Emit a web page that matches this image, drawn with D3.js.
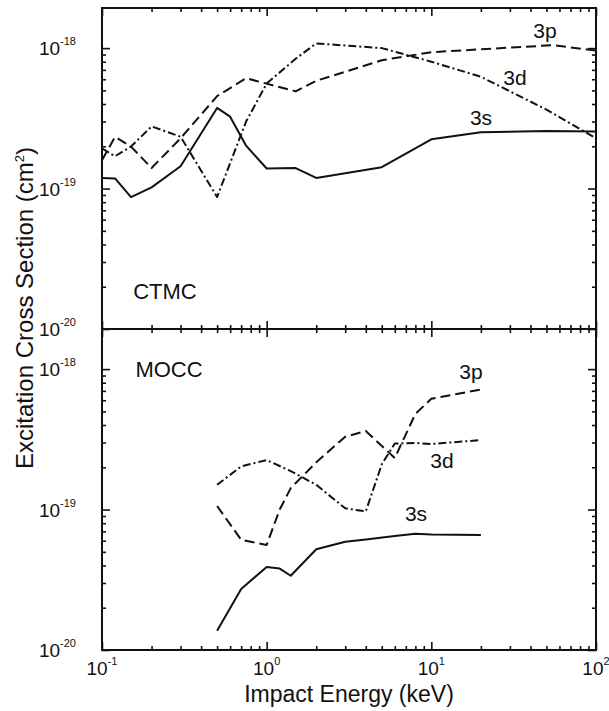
<!DOCTYPE html>
<html>
<head>
<meta charset="utf-8">
<script src="https://cdn.jsdelivr.net/npm/d3@7"></script>
<style>
  body { margin: 0; background: #fff; }
  svg { display: block; font-family: "Liberation Sans", Arial, Helvetica, sans-serif; }
</style>
</head>
<body>
<svg id="chart" width="609" height="711"></svg>
<script>
// CTMC (upper panel), cross sections in cm^2 vs impact energy in keV
const ctmcEnergy3s = [0.1, 0.12, 0.15, 0.2, 0.3, 0.5, 0.6, 0.75, 1, 1.5, 2, 5, 10, 20, 50, 100];
const ctmc3s = [1.19e-19, 1.18e-19, 0.87e-19, 1.02e-19, 1.44e-19, 3.75e-19, 3.25e-19, 2.02e-19, 1.39e-19, 1.40e-19, 1.19e-19, 1.42e-19, 2.24e-19, 2.52e-19, 2.57e-19, 2.55e-19];

const ctmcEnergy3p = [0.1, 0.12, 0.15, 0.2, 0.3, 0.5, 0.75, 1.5, 2, 5, 10, 20, 55, 100];
const ctmc3p = [1.59e-19, 2.34e-19, 1.99e-19, 1.40e-19, 2.28e-19, 4.55e-19, 6.1e-19, 4.92e-19, 5.85e-19, 8.2e-19, 9.35e-19, 9.8e-19, 1.05e-18, 9.6e-19];

const ctmcEnergy3d = [0.1, 0.12, 0.15, 0.2, 0.3, 0.5, 0.75, 1, 1.5, 2, 5, 10, 20, 50, 100];
const ctmc3d = [1.93e-19, 1.70e-19, 1.99e-19, 2.77e-19, 2.34e-19, 0.87e-19, 3.0e-19, 5.6e-19, 8.4e-19, 1.08e-18, 1.0e-18, 8.0e-19, 6.25e-19, 3.65e-19, 2.28e-19];

// MOCC (lower panel)
const moccEnergy3s = [0.5, 0.7, 1, 1.2, 1.4, 2, 3, 4, 6, 8, 10, 20];
const mocc3s = [1.37e-20, 2.72e-20, 3.9e-20, 3.8e-20, 3.38e-20, 5.22e-20, 5.9e-20, 6.12e-20, 6.47e-20, 6.72e-20, 6.65e-20, 6.6e-20];

const moccEnergy3p = [0.5, 0.7, 1, 1.2, 1.4, 2, 3, 4, 6, 8, 10, 20];
const mocc3p = [1.06e-19, 0.61e-19, 0.56e-19, 1.0e-19, 1.42e-19, 2.17e-19, 3.3e-19, 3.62e-19, 2.33e-19, 4.8e-19, 6.15e-19, 7.15e-19];

const moccEnergy3d = [0.5, 0.7, 1, 1.4, 2, 3, 4, 5, 6, 8, 10, 20];
const mocc3d = [1.5e-19, 2.03e-19, 2.25e-19, 1.88e-19, 1.5e-19, 1.02e-19, 0.97e-19, 2.1e-19, 2.95e-19, 2.98e-19, 2.93e-19, 3.12e-19];

// tick labels
const xTickValues = [0.1, 1, 10, 100];
const xTickExponents = ["-1", "0", "1", "2"];
const yTickValues = [1e-20, 1e-19, 1e-18];
const yTickExponents = ["-20", "-19", "-18"];

const svg = d3.select("#chart");
const frameLeft = 102, frameRight = 596, frameTop = 8, frameSplit = 329, frameBottom = 650;
const yMax = 1.93e-18;

const x = d3.scaleLog().domain([0.1, 100]).range([frameLeft, frameRight]);
const yUpper = d3.scaleLog().domain([1e-20, yMax]).range([frameSplit, frameTop]);
const yLower = d3.scaleLog().domain([1e-20, yMax]).range([frameBottom, frameSplit]);

// minor ticks: 2..9 in every decade
function minorTicks(domain) {
    const out = [];
    for (let e = Math.floor(Math.log10(domain[0])); e < Math.ceil(Math.log10(domain[1])); e++) {
        for (let k = 2; k <= 9; k++) {
            const v = k * Math.pow(10, e);
            if (v > domain[0] * 1.0001 && v < domain[1]) out.push(v);
        }
    }
    return out;
}

function drawTicks(axisFn, scale, transform, majors) {
    const minors = minorTicks(scale.domain());
    [[majors, 8], [minors, 4]].forEach(([values, len]) => {
        const g = svg.append("g")
            .attr("transform", transform)
            .call(axisFn(scale).tickValues(values).tickSizeInner(-len).tickSizeOuter(0).tickFormat(""));
        g.select(".domain").remove();
        g.selectAll("line").attr("stroke", "#111").attr("stroke-width", 1.6);
    });
}

function drawPanel(y, yTopPx, yBottomPx) {
    drawTicks(d3.axisLeft, y, `translate(${frameLeft},0)`, yTickValues);
    drawTicks(d3.axisRight, y, `translate(${frameRight},0)`, yTickValues);
    drawTicks(d3.axisTop, x, `translate(0,${yTopPx})`, xTickValues);
    drawTicks(d3.axisBottom, x, `translate(0,${yBottomPx})`, xTickValues);

    svg.append("rect")
        .attr("x", frameLeft).attr("y", yTopPx)
        .attr("width", frameRight - frameLeft).attr("height", yBottomPx - yTopPx)
        .attr("fill", "none").attr("stroke", "#111").attr("stroke-width", 2);

    // y tick labels 10^n
    yTickValues.forEach((v, i) => {
        const t = svg.append("text")
            .attr("x", 76).attr("y", y(v) + 7)
            .attr("text-anchor", "end")
            .attr("font-size", 19).attr("fill", "#111");
        t.append("tspan").text("10");
        t.append("tspan").attr("dy", -10).attr("font-size", 11).text(yTickExponents[i]);
    });
}

const lineStyles = {
    "3s": null,
    "3p": "10,5",
    "3d": "8,3,2,3"
};

function drawCurve(y, energies, values, dash) {
    const line = d3.line()
        .x(d => x(d[0]))
        .y(d => y(d[1]));
    svg.append("path")
        .datum(d3.zip(energies, values))
        .attr("fill", "none")
        .attr("stroke", "#111")
        .attr("stroke-width", 2)
        .attr("stroke-linejoin", "round")
        .attr("stroke-dasharray", dash)
        .attr("d", line);
}

function label(text, cx, cy, size) {
    svg.append("text")
        .attr("x", cx).attr("y", cy).attr("dy", "0.35em")
        .attr("text-anchor", "middle")
        .attr("font-size", size).attr("fill", "#111")
        .text(text);
}

drawPanel(yUpper, frameTop, frameSplit);
drawPanel(yLower, frameSplit, frameBottom);

drawCurve(yUpper, ctmcEnergy3s, ctmc3s, lineStyles["3s"]);
drawCurve(yUpper, ctmcEnergy3p, ctmc3p, lineStyles["3p"]);
drawCurve(yUpper, ctmcEnergy3d, ctmc3d, lineStyles["3d"]);

drawCurve(yLower, moccEnergy3s, mocc3s, lineStyles["3s"]);
drawCurve(yLower, moccEnergy3p, mocc3p, lineStyles["3p"]);
drawCurve(yLower, moccEnergy3d, mocc3d, lineStyles["3d"]);

// curve and panel labels
label("3p", 545, 31, 21);
label("3d", 515, 78, 21);
label("3s", 481, 118, 21);
label("CTMC", 165, 291, 22);

label("3p", 471, 372, 21);
label("3d", 442, 461, 21);
label("3s", 416, 514, 21);
label("MOCC", 169, 369, 22);

// x tick labels
xTickValues.forEach((v, i) => {
    const t = svg.append("text")
        .attr("x", x(v)).attr("y", 675)
        .attr("text-anchor", "middle")
        .attr("font-size", 19).attr("fill", "#111");
    t.append("tspan").text("10");
    t.append("tspan").attr("dy", -10).attr("font-size", 11).text(xTickExponents[i]);
});

// axis titles
svg.append("text")
    .attr("x", (frameLeft + frameRight) / 2).attr("y", 702)
    .attr("text-anchor", "middle")
    .attr("font-size", 23).attr("fill", "#111")
    .text("Impact Energy (keV)");

const yTitle = svg.append("text")
    .attr("transform", "translate(33,308) rotate(-90)")
    .attr("text-anchor", "middle")
    .attr("font-size", 24).attr("fill", "#111");
yTitle.append("tspan").text("Excitation Cross Section (cm");
yTitle.append("tspan").attr("dy", -9).attr("font-size", 13).text("2");
yTitle.append("tspan").attr("dy", 9).text(")");
</script>
</body>
</html>
